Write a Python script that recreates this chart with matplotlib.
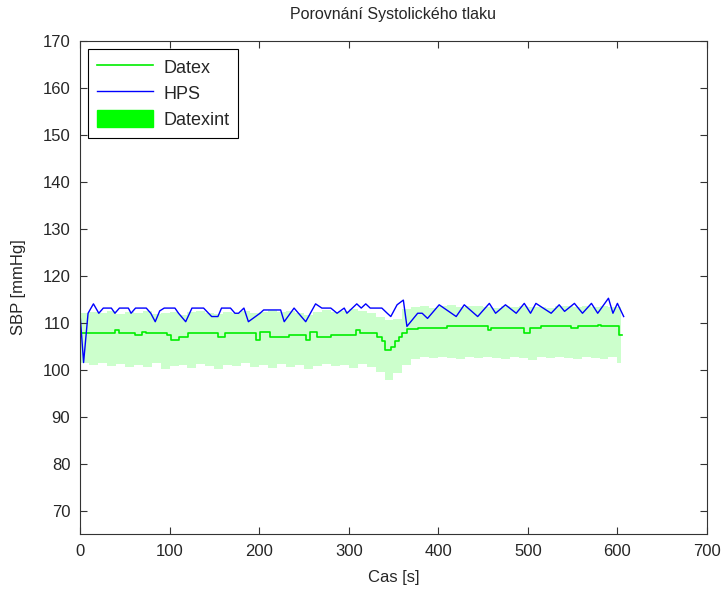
import matplotlib
matplotlib.use('Agg')
import matplotlib.pyplot as plt
from matplotlib.patches import Patch

plt.rcParams['font.family'] = ['Liberation Sans', 'DejaVu Sans']
plt.rcParams['text.color'] = '#262626'
plt.rcParams['axes.labelcolor'] = '#262626'
plt.rcParams['xtick.labelcolor'] = '#262626'
plt.rcParams['ytick.labelcolor'] = '#262626'

# Datex - stepped values (time of change, value)
datex_t = [0, 39, 44, 61, 69, 74, 97, 102, 110, 121, 154, 162, 196, 201, 212, 233,
           252, 257, 265, 280, 308, 313, 332, 337, 341, 347, 352, 356, 360, 365,
           377, 410, 455, 459, 496, 502, 515, 548, 556, 578, 582, 602, 605]
datex_v = [107.7, 108.4, 107.7, 107.4, 108.1, 107.7, 107.4, 106.3, 107.0, 107.7,
           107.0, 107.7, 106.3, 108.1, 107.0, 107.4, 106.3, 108.1, 107.0, 107.4,
           108.4, 107.7, 107.0, 106.0, 104.2, 104.9, 106.0, 107.0, 107.7, 108.6,
           108.8, 109.2, 108.4, 108.8, 107.7, 108.8, 109.2, 108.8, 109.2, 109.5,
           109.2, 107.4, 107.4]

# HPS
hps_t = [0, 4, 9, 15, 21, 26, 35, 39, 44, 54, 57, 62, 74, 79, 84, 89, 94, 106, 110,
         118, 125, 138, 147, 154, 158, 168, 173, 177, 183, 188, 201, 205, 224, 228,
         239, 252, 263, 270, 280, 287, 295, 298, 309, 314, 319, 324, 337, 343,
         347, 354, 361, 365, 377, 382, 388, 401, 420, 429, 444, 457, 464, 475,
         487, 496, 503, 509, 526, 535, 541, 552, 561, 571, 578, 590, 595, 600, 607]
hps_v = [112.0, 101.5, 112.0, 114.0, 112.0, 113.1, 113.1, 112.0, 113.1, 113.1,
         112.0, 113.1, 113.1, 112.0, 110.2, 112.5, 113.1, 113.1, 112.0, 110.2,
         113.1, 113.1, 111.3, 111.3, 113.1, 113.1, 112.0, 112.0, 113.1, 110.2,
         112.0, 112.7, 112.7, 110.2, 113.1, 110.2, 114.0, 113.1, 113.1, 112.0,
         113.1, 112.0, 114.0, 113.1, 114.0, 113.1, 113.1, 112.0, 111.3, 113.8,
         114.8, 109.2, 112.0, 112.0, 110.9, 113.8, 111.3, 113.8, 111.3, 114.1,
         112.0, 113.8, 112.0, 114.1, 112.0, 114.1, 112.0, 113.8, 112.4, 114.1,
         112.0, 114.1, 112.0, 115.2, 112.0, 114.1, 111.3]

# Datexint band
band_t = list(range(0, 610, 10))
band_hi = [112.0, 112.3, 112.0, 112.4, 111.8, 112.3, 112.0, 112.4, 111.8, 112.0,
           112.3, 111.7, 112.2, 112.5, 112.0, 111.8, 112.3, 112.0, 112.4, 112.0,
           112.3, 112.6, 112.2, 112.5, 112.0, 111.7, 112.3, 112.6, 112.3, 112.5,
           112.8, 112.4, 112.0, 111.3, 110.5, 110.8, 113.0, 113.3, 113.6, 113.2,
           113.5, 113.7, 113.3, 113.5, 113.6, 113.4, 113.2, 113.5, 113.3, 113.6,
           113.4, 113.4, 113.2, 113.5, 113.6, 113.3, 113.5, 113.4, 113.6, 113.3,
           113.4]
band_lo = [101.5, 101.0, 101.3, 100.8, 101.2, 100.5, 101.0, 100.6, 101.3, 100.2,
           100.8, 101.0, 100.4, 101.2, 100.7, 100.2, 101.0, 100.8, 101.3, 100.5,
           101.0, 100.3, 101.2, 100.6, 101.0, 100.2, 100.8, 101.2, 100.7, 101.0,
           100.4, 101.1, 100.5, 99.5, 97.8, 99.3, 101.0, 102.3, 102.6, 102.4,
           102.7, 102.5, 102.3, 102.6, 102.4, 102.7, 102.5, 102.3, 102.6, 102.4,
           102.0, 102.6, 102.4, 102.7, 102.5, 102.3, 102.6, 102.5, 102.3, 102.6,
           101.5]

fig = plt.figure(figsize=(7.24, 5.92), dpi=100)
ax = fig.add_axes([0.1105, 0.098, 0.866, 0.833])

ax.fill_between(band_t + [604], band_lo + [band_lo[-1]], band_hi + [band_hi[-1]],
                step='post', color='#00ff00', alpha=0.2, linewidth=0)
l1, = ax.plot(datex_t, datex_v, color='#00ee00', lw=1.2, drawstyle='steps-post')
l2, = ax.plot(hps_t, hps_v, color='#0000ff', lw=1.0)

p3 = Patch(facecolor='#00ff00', edgecolor='#00ff00')
leg = ax.legend([l1, l2, p3], ['Datex', 'HPS', 'Datexint'], loc='upper left',
                fontsize=13, fancybox=False, edgecolor='black', framealpha=1,
                handlelength=3.1, handleheight=1.05, handletextpad=0.55,
                borderpad=0.5, labelspacing=0.42, borderaxespad=0.45)
leg.get_frame().set_linewidth(0.8)

ax.set_xlim(0, 700)
ax.set_ylim(65, 170)
ax.set_xticks(range(0, 701, 100))
ax.set_yticks(range(70, 171, 10))
ax.tick_params(direction='in', top=True, right=True, labelsize=12, length=5,
               color='#333333', pad=7)
for s in ax.spines.values():
    s.set_color('#333333')
ax.set_title('Porovnání Systolického tlaku', fontsize=11.5, pad=16)
ax.set_xlabel('Cas [s]', fontsize=12, labelpad=8)
ax.set_ylabel('SBP [mmHg]', fontsize=12, labelpad=12)

fig.savefig('out.png')
